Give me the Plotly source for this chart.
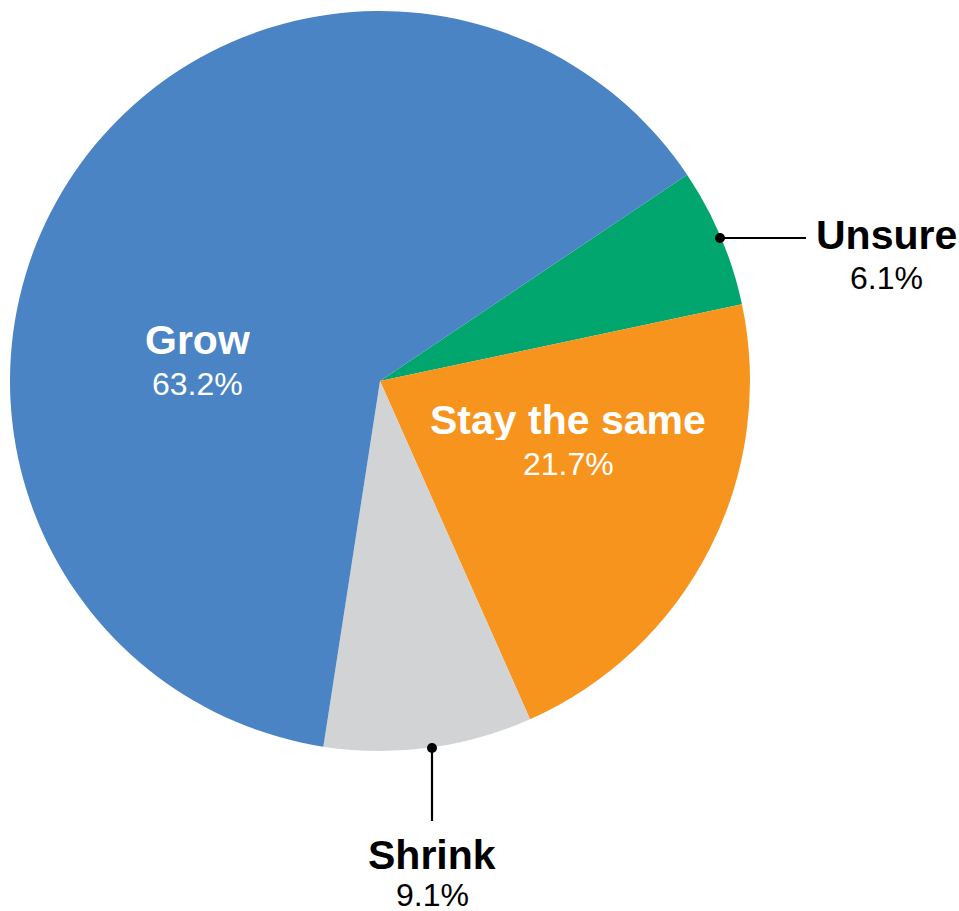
import plotly.graph_objects as go

labels = ["Unsure", "Stay the same", "Shrink", "Grow"]
values = [6.1, 21.7, 9.1, 63.2]
colors = ["#00A66D", "#F7941E", "#D1D3D4", "#4A84C4"]

W, H = 959, 911

def px(x):
    return x / W

def py(y):
    return 1 - y / H

fig = go.Figure(go.Pie(
    labels=labels,
    values=values,
    sort=False,
    direction="clockwise",
    rotation=56.1,
    marker=dict(colors=colors, line=dict(width=0)),
    textinfo="none",
    hoverinfo="label+percent",
    showlegend=False,
    domain=dict(x=[px(10), px(750)], y=[py(751), py(11)]),
))

# label placement (pixel positions of label centers): x, y of name, y of pct, color
label_pos = {
    "Grow": (197, 340, 383, "white"),
    "Stay the same": (568, 420, 463, "white"),
    "Unsure": (886, 235, 277, "black"),
    "Shrink": (432, 855, 894, "black"),
}

FONT = "Liberation Sans, Arial, Helvetica, sans-serif"
annotations = []
for lab, val in zip(labels, values):
    x, y1, y2, col = label_pos[lab]
    annotations.append(dict(
        x=px(x), y=py(y1), xref="paper", yref="paper",
        text=f"<b>{lab}</b>", showarrow=False,
        xanchor="center", yanchor="middle", borderpad=0, height=40,
        font=dict(family=FONT, size=41, color=col),
    ))
    annotations.append(dict(
        x=px(x), y=py(y2), xref="paper", yref="paper",
        text=f"{val:.1f}%", showarrow=False,
        xanchor="center", yanchor="middle", borderpad=0, height=33,
        font=dict(family=FONT, size=32, color=col),
    ))

shapes = []
# leader lines and dots
for (x0, y0, x1, y1) in [(720, 238, 806, 238), (432, 748, 432, 821)]:
    shapes.append(dict(type="line", xref="paper", yref="paper",
                       x0=px(x0), y0=py(y0), x1=px(x1), y1=py(y1),
                       line=dict(color="black", width=2.2)))
    r = 5
    shapes.append(dict(type="circle", xref="paper", yref="paper",
                       x0=px(x0 - r), y0=py(y0 + r), x1=px(x0 + r), y1=py(y0 - r),
                       fillcolor="black", line=dict(width=0)))

fig.update_layout(
    width=W, height=H,
    margin=dict(l=0, r=0, t=0, b=0),
    paper_bgcolor="white",
    plot_bgcolor="white",
    annotations=annotations,
    shapes=shapes,
)

fig.write_html(
    "out.html",
    config={"displayModeBar": False},
    post_script="document.body.style.margin='0';document.body.style.padding='0';"
                "document.body.style.overflow='hidden';",
)
